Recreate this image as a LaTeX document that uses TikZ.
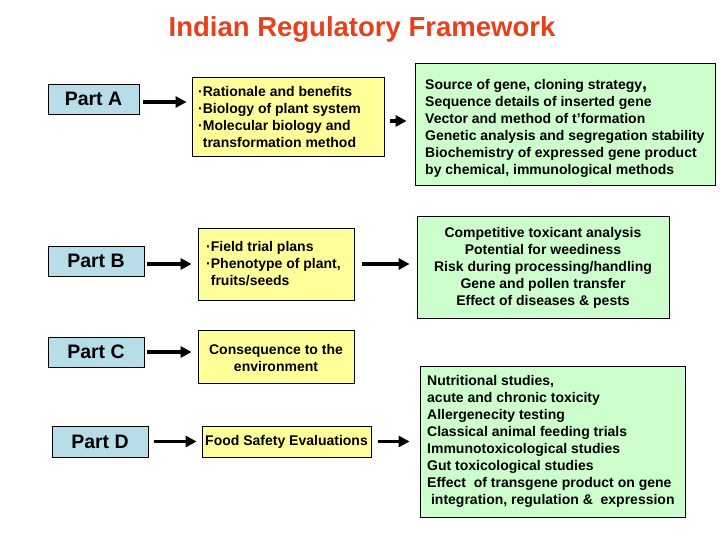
\documentclass[tikz,border=0pt]{standalone}
\usepackage{fontspec}
\setmainfont{Liberation Sans}
\usetikzlibrary{arrows.meta}
\definecolor{partblue}{RGB}{183,222,232}
\definecolor{yel}{RGB}{255,255,153}
\definecolor{grn}{RGB}{204,255,204}
\definecolor{titlered}{RGB}{232,64,28}
\begin{document}
\begin{tikzpicture}[x=1pt,y=-1pt,
  partbox/.style={draw=black, line width=0.8pt, fill=partblue, inner sep=0pt, font=\fontsize{19.5}{22}\selectfont\bfseries},
  ybox/.style={draw=black, line width=0.8pt, fill=yel, inner sep=0pt},
  gbox/.style={draw=black, line width=0.8pt, fill=grn, inner sep=0pt},
  body/.style={inner sep=0pt, font=\fontsize{14}{17}\selectfont\bfseries},
  arr/.style={line width=3.5pt, -{Triangle[length=11pt,width=11pt]}}]
\useasboundingbox (0,0) rectangle (720,540);

\node[text=titlered, font=\fontsize{27.5}{30}\selectfont\bfseries, anchor=base] (title) at (362,37) {Indian Regulatory Framework};

% part boxes
\node[partbox, minimum width=91pt, minimum height=30pt] (pa) at (93.5,99) {Part A};
\node[partbox, minimum width=96pt, minimum height=30pt] (pb) at (96,261) {Part B};
\node[partbox, minimum width=96pt, minimum height=30pt] (pc) at (96,352) {Part C};
\node[partbox, minimum width=96pt, minimum height=31pt] (pd) at (100,441.5) {Part D};

% yellow boxes
\node[ybox, minimum width=192pt, minimum height=79pt] (ya) at (288,116.5) {};
\node[ybox, minimum width=156pt, minimum height=72pt] (yb) at (276,264) {};
\node[ybox, minimum width=156pt, minimum height=53pt] (yc) at (276,356.5) {};
\node[ybox, minimum width=169pt, minimum height=31pt] (yd) at (286.5,441.5) {};

% green boxes
\node[gbox, minimum width=300pt, minimum height=122pt] (ga) at (565,124) {};
\node[gbox, minimum width=252pt, minimum height=102pt] (gb) at (543,267) {};
\node[gbox, minimum width=265pt, minimum height=151pt] (gd) at (552.5,441.5) {};

% texts
\node[body, anchor=west, align=left] (ta) at (198,117) {·Rationale and benefits\\·Biology of plant system\\·Molecular biology and\\\hphantom{·}transformation method};
\node[body, anchor=west, align=left] (tb) at (206,264) {·Field trial plans\\·Phenotype of plant,\\\hphantom{·}fruits/seeds};
\node[body, align=center] (tc) at (276,357.5) {Consequence to the\\environment};
\node[body] (td) at (286.5,441.5) {Food Safety Evaluations};

\node[body, anchor=west, align=left] (tga) at (425,128.5) {Source of gene, cloning strategy{\fontsize{18}{17}\selectfont,}\\Sequence details of inserted gene\\Vector and method of t’formation\\Genetic analysis and segregation stability\\Biochemistry of expressed gene product\\by chemical, immunological methods};
\node[body, align=center] (tgb) at (543,267.5) {Competitive toxicant analysis\\Potential for weediness\\Risk during processing/handling\\Gene and pollen transfer\\Effect of diseases \& pests};
\node[body, anchor=west, align=left] (tgd) at (427,441) {Nutritional studies,\\acute and chronic toxicity\\Allergenecity testing\\Classical animal feeding trials\\Immunotoxicological studies\\Gut toxicological studies\\Effect\ \ of transgene product on gene\\\ integration, regulation \&\ \ expression};

% arrows
\draw[arr, shorten <=4pt, shorten >=5pt] ([yshift=-3pt]pa.east) -- ([yshift=-3pt]pa.east -| ya.west);
\draw[arr, shorten <=6pt, shorten >=8pt] ([yshift=-4.5pt]ya.east) -- ([yshift=-4.5pt]ya.east -| ga.west);
\draw[arr, shorten <=3pt, shorten >=6pt] ([yshift=-3pt]pb.east) -- ([yshift=-3pt]pb.east -| yb.west);
\draw[arr, shorten <=8pt, shorten >=7pt] (yb.east) -- (yb.east -| gb.west);
\draw[arr, shorten <=3pt, shorten >=6pt] (pc.east) -- (pc.east -| yc.west);
\draw[arr, shorten <=6pt, shorten >=5pt] (pd.east) -- (pd.east -| yd.west);
\draw[arr, shorten <=7pt, shorten >=10pt] (yd.east) -- (yd.east -| gd.west);
\end{tikzpicture}
\end{document}
